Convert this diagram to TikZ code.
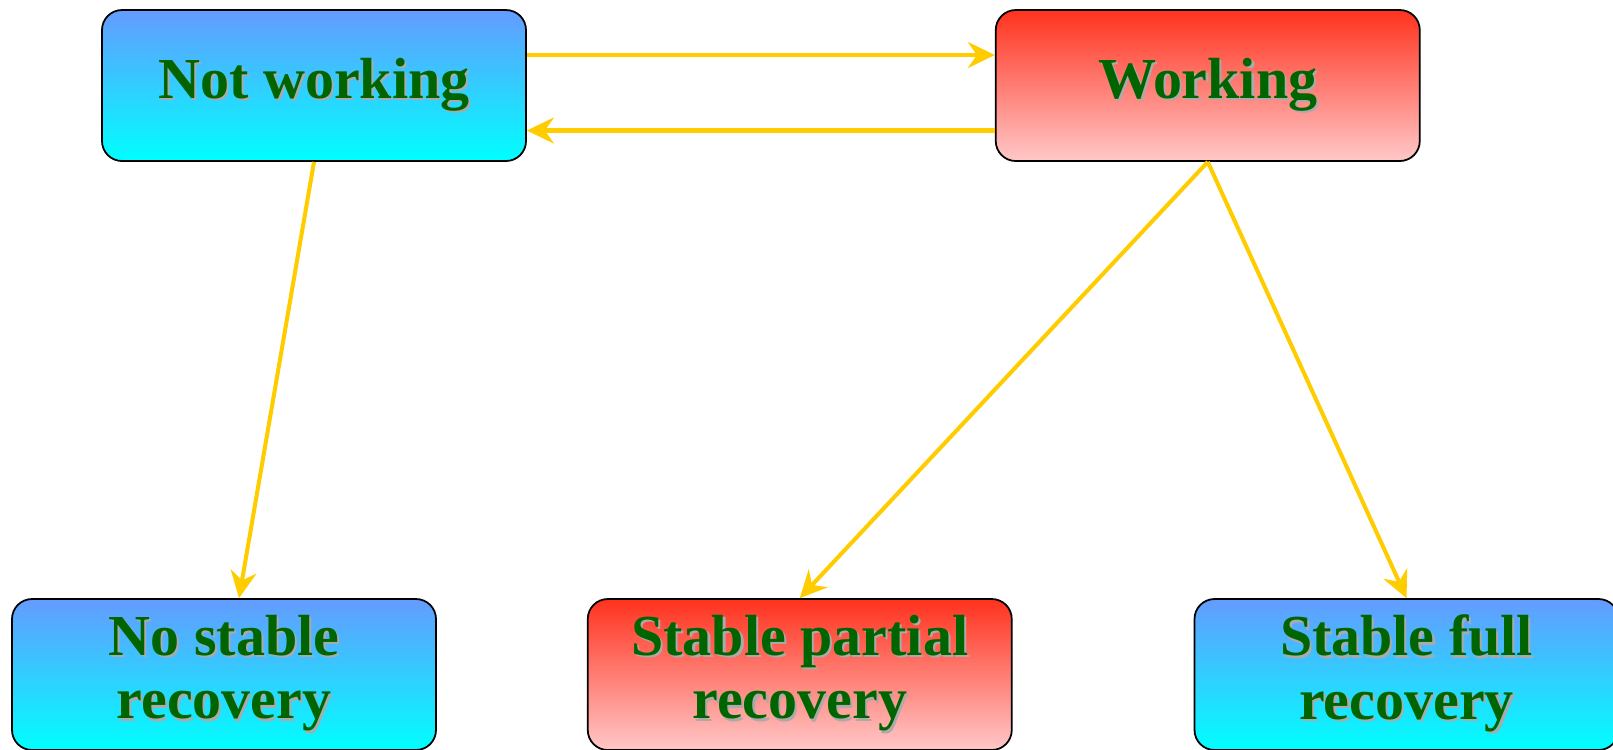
\documentclass[tikz,border=0pt]{standalone}
\usepackage{fontspec}
\setmainfont{Liberation Serif}
\usepackage{tikz}
\usetikzlibrary{arrows.meta,positioning}

\definecolor{txtgreen}{RGB}{0,100,0}
\definecolor{shadegray}{RGB}{170,170,170}
\definecolor{arrowgold}{RGB}{255,204,0}
\newcommand{\shd}[1]{\rlap{\kern0.6pt\raisebox{-0.6pt}{\color{shadegray}#1}}#1}

\begin{document}
\begin{tikzpicture}[->,>={Stealth[length=2.7mm,width=2.6mm,inset=0.9mm]},
  state/.style={draw=black,line width=0.5pt,rounded corners=2mm,
    minimum width=4.24cm,minimum height=1.51cm,align=center,
    text=txtgreen,font=\fontsize{16.5}{18}\selectfont\bfseries},
  bluestate/.style={state,top color={rgb,255:red,100;green,155;blue,255},bottom color=cyan},
  redstate/.style={state,top color={rgb,255:red,255;green,50;blue,30},bottom color={rgb,255:red,255;green,200;blue,200}},
  every edge/.style={draw=arrowgold,line width=1.15pt}]
  \useasboundingbox (0,0) rectangle (16.13,-7.49);

  \node[bluestate] (notw) at (3.14,-0.855)          {\shd{Not working}};
  \node[redstate]  (work) [right=4.68cm of notw]    {\shd{Working}};
  \node[bluestate] (nost) at (2.24,-6.745)          {\shd{No stable}\\\shd{recovery}};
  \node[redstate]  (part) [right=1.50cm of nost]    {\shd{Stable partial}\\\shd{recovery}};
  \node[bluestate] (full) [right=1.81cm of part]    {\shd{Stable full}\\\shd{recovery}};

  \path
([yshift=3.05mm]notw.east) edge ([yshift=3.05mm]work.west)
([yshift=-4.5mm]work.west) edge ([yshift=-4.5mm]notw.east)
(notw.south) edge ([xshift=1.5mm]nost.north)
(work.south) edge (part.north)
(work.south) edge (full.north)
;
\end{tikzpicture}
\end{document}
